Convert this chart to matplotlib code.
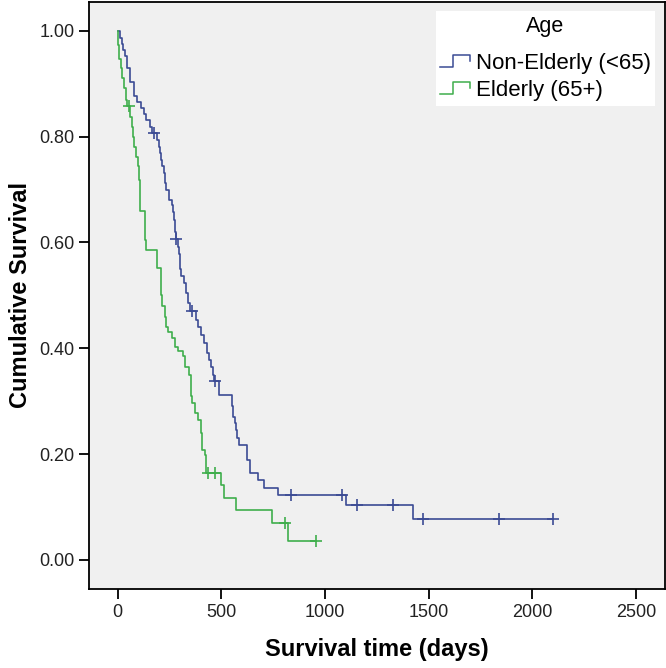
import numpy as np
import matplotlib
matplotlib.use("Agg")
import matplotlib.pyplot as plt
from matplotlib.legend_handler import HandlerBase
from matplotlib.lines import Line2D

plt.rcParams['font.family'] = ['Liberation Sans', 'DejaVu Sans']

# Kaplan-Meier steps: time (days) of each drop, survival after it
young_times = [0, 10, 21, 28, 37, 45, 58, 78, 81, 94, 113, 129, 139, 155, 165, 190, 198,
               203, 210, 215, 223, 228, 234, 247, 260, 266, 271, 277, 280, 292, 297, 300,
               302, 304, 320, 331, 341, 350, 376, 389, 401, 417, 433, 441, 449, 458, 466,
               489, 551, 557, 564, 570, 578, 586, 622, 638, 675, 707, 772, 1103, 1426]
young_surv = [1.0, 0.986, 0.975, 0.963, 0.952, 0.929, 0.904, 0.890, 0.876, 0.866, 0.854,
              0.843, 0.831, 0.818, 0.806, 0.794, 0.781, 0.769, 0.756, 0.744, 0.731, 0.712,
              0.699, 0.681, 0.671, 0.657, 0.643, 0.620, 0.606, 0.592, 0.578, 0.564, 0.550,
              0.536, 0.523, 0.504, 0.485, 0.470, 0.454, 0.441, 0.425, 0.410, 0.391, 0.378,
              0.365, 0.350, 0.338, 0.312, 0.290, 0.271, 0.258, 0.246, 0.231, 0.217, 0.189,
              0.164, 0.151, 0.136, 0.122, 0.104, 0.078]
young_censor = [176, 284, 357, 472, 837, 1082, 1156, 1328, 1472, 1840, 2101]

old_times = [0, 3, 8, 14, 22, 30, 40, 45, 61, 69, 74, 81, 91, 97, 102, 106, 110, 134, 138,
             190, 207, 211, 215, 228, 231, 244, 263, 276, 292, 315, 325, 344, 352, 356, 360,
             373, 389, 401, 405, 409, 421, 425, 428, 497, 513, 573, 745, 820]
old_surv = [1.0, 0.973, 0.946, 0.929, 0.910, 0.891, 0.869, 0.857, 0.838, 0.819, 0.800,
            0.781, 0.762, 0.744, 0.718, 0.699, 0.659, 0.605, 0.586, 0.551, 0.523, 0.500,
            0.479, 0.460, 0.441, 0.430, 0.419, 0.403, 0.394, 0.385, 0.365, 0.350, 0.328,
            0.310, 0.296, 0.277, 0.265, 0.240, 0.225, 0.208, 0.198, 0.176, 0.165, 0.142,
            0.117, 0.0945, 0.069, 0.035]
old_censor = [53, 437, 472, 809, 958]

groups = ["Non-Elderly (<65)", "Elderly (65+)"]
colors = ["#3b4b94", "#3fae4c"]


class StepHandler(HandlerBase):
    # little step icon like the SPSS legend
    def create_artists(self, legend, orig_handle, xdescent, ydescent, width, height,
                       fontsize, trans):
        xs = np.array([0, 0.42, 0.42, 1.0, 1.0]) * width - xdescent
        ys = np.array([0.15, 0.15, 0.9, 0.9, 0.55]) * height - ydescent
        ln = Line2D(xs, ys, color=orig_handle.get_color(), lw=1.1, transform=trans)
        return [ln]


fig = plt.figure(figsize=(6.66, 6.68), dpi=100)
ax = fig.add_axes([89/666, 1 - 589/668, 576/666, 587.3/668])
ax.set_facecolor("#f0f0f0")

handles = []
for times, surv, cens, col in [(young_times, young_surv, young_censor, colors[0]),
                               (old_times, old_surv, old_censor, colors[1])]:
    t = list(times) + [cens[-1]]
    s = list(surv) + [surv[-1]]
    h, = ax.step(t, s, where="post", color=col, lw=1.2)
    idx = np.searchsorted(times, cens, side="right") - 1
    ax.plot(cens, np.array(surv)[idx], "+", color=col, ms=9, mew=1.2)
    handles.append(h)

ax.set_xlim(-138, 2640)
ax.set_ylim(-0.055, 1.055)
ax.set_xticks([0, 500, 1000, 1500, 2000, 2500])
ax.set_yticks([0, 0.2, 0.4, 0.6, 0.8, 1.0])
ax.set_yticklabels(["%.2f" % v for v in [0, 0.2, 0.4, 0.6, 0.8, 1.0]])
ax.tick_params(direction="out", length=7.5, width=1.3, labelsize=13,
               labelcolor="#222222", pad=3)
for sp in ax.spines.values():
    sp.set_linewidth(1.3)

ax.set_xlabel("Survival time (days)", fontsize=17, fontweight="bold")
ax.set_ylabel("Cumulative Survival", fontsize=17, fontweight="bold")
ax.xaxis.set_label_coords(0.5, -0.083)
ax.yaxis.set_label_coords(-0.099, 0.5)

leg = ax.legend(handles, groups, title="Age", loc="upper right",
                bbox_to_anchor=(0.983, 0.984), borderaxespad=0, fontsize=16,
                title_fontsize=15.5, frameon=True, fancybox=False, framealpha=1,
                handlelength=1.35, handletextpad=0.25, labelspacing=0.28,
                borderpad=0.2, handler_map={Line2D: StepHandler()})
leg._legend_box.sep = 12
leg.get_frame().set_edgecolor("white")
leg.get_frame().set_linewidth(0)

fig.savefig("out.png", dpi=100)
